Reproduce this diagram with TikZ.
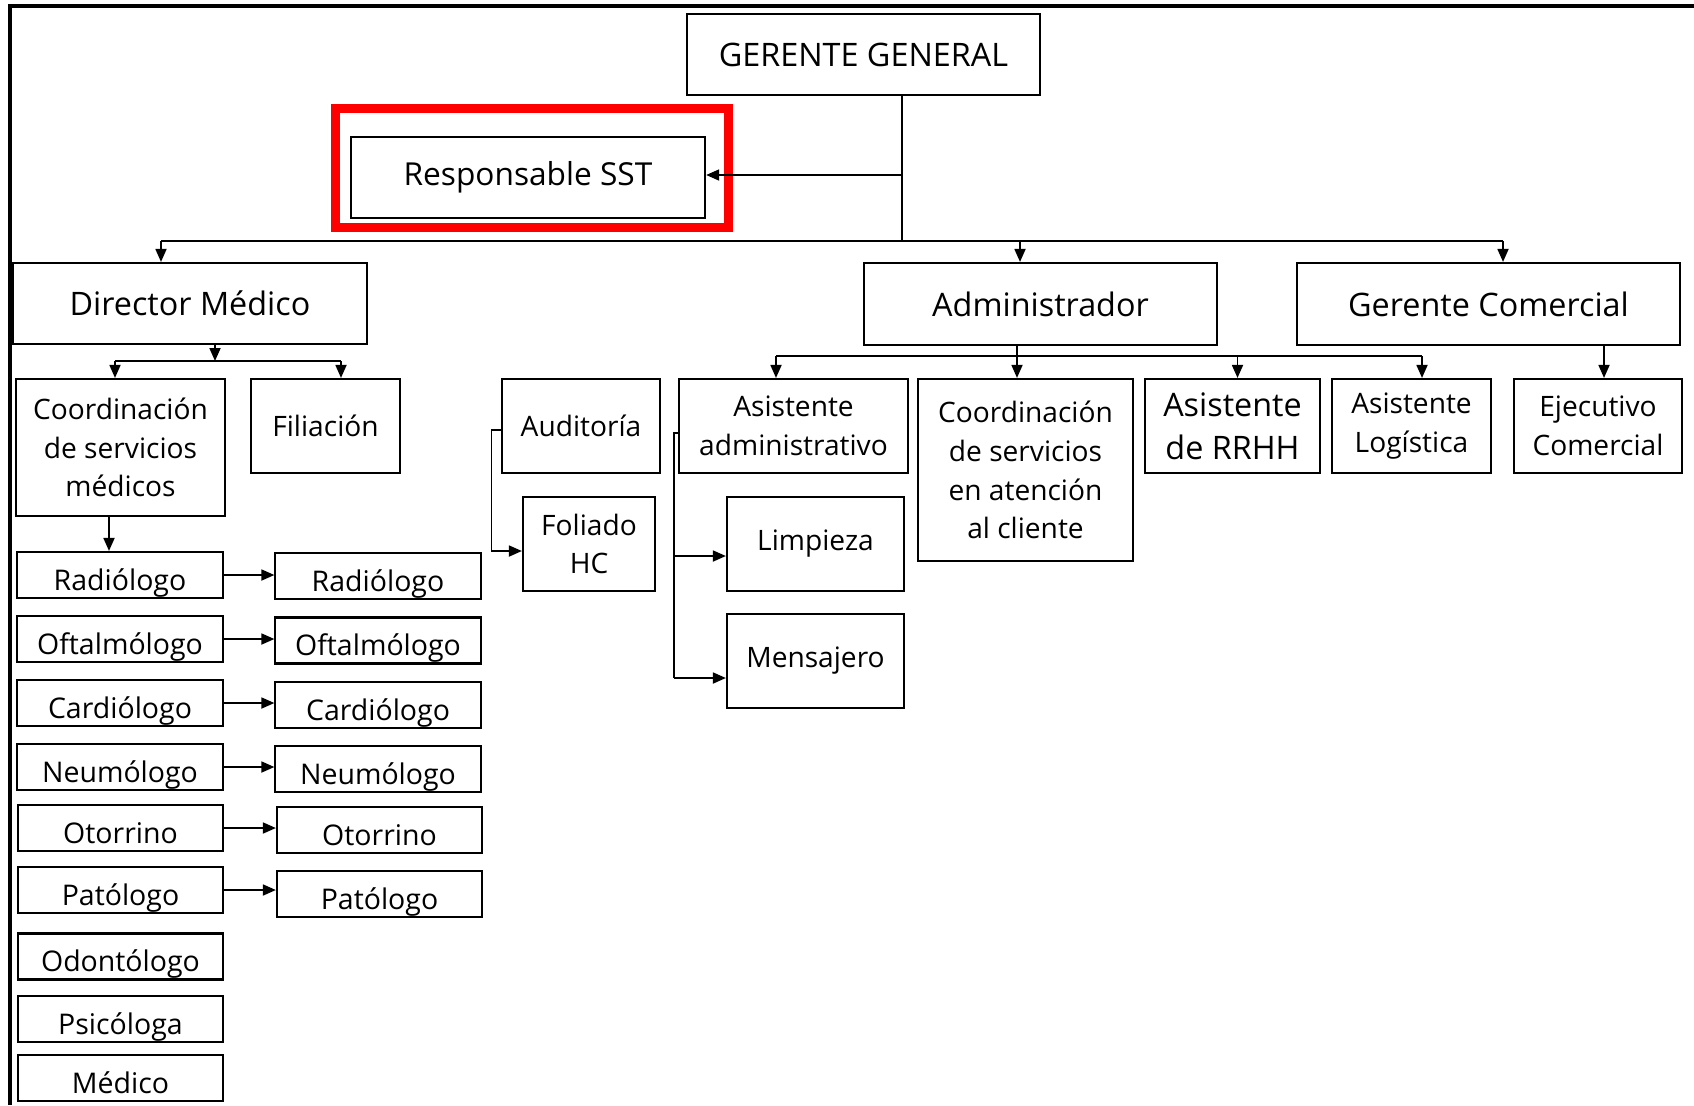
\documentclass[tikz,border=0pt]{standalone}
\usepackage{fontspec}
\setmainfont{Open Sans}
\usetikzlibrary{arrows.meta}
\tikzset{dim/.style 2 args={minimum width=#1cm,minimum height=#2cm}}

\begin{document}
\begin{tikzpicture}[x=0.01cm,y=-0.01cm,>={Triangle[length=1.3mm,width=1.1mm]},line width=0.5pt,
            box/.style={draw,line width=0.6pt,inner sep=1pt,align=center,font=\fontsize{8}{11}\selectfont},
            bigtext/.style={font=\fontsize{9.2}{12.3}\selectfont},
            doc/.style={box,minimum width=2.05cm,minimum height=0.46cm,text height=8.6pt,text depth=0pt,font=\fontsize{8.1}{10}\selectfont}]
            \useasboundingbox (0,0) rectangle (1694,1105);
            \draw[line width=0.9pt] (1694,6) -- (10,6) -- (10,1105);

            % top of the chart
            \node[box,bigtext,dim={3.53}{0.81}] (gg) at (863.5,54.5) {GERENTE GENERAL};
            \node[box,dim={3.54}{0.81},font=\fontsize{9}{11}\selectfont] (sst) at (528,177.5) {Responsable SST};
            \draw[red,line width=2.6pt] (335.5,108.5) rectangle (728.5,227.5);
            \node[box,bigtext,dim={3.54}{0.81}] (dm) at (190,303.5) {Director Médico};
            \node[box,bigtext,dim={3.53}{0.82}] (adm) at (1040.5,304) {Administrador};
            \node[box,bigtext,dim={3.83}{0.82}] (gc) at (1488.5,304) {Gerente Comercial};

            % second level
            \node[box,dim={2.09}{1.37}] (csm) at (120.5,447.5) {Coordinación\\de servicios\\médicos};
            \node[box,dim={1.49}{0.94}] (fil) at (325.5,426) {Filiación};
            \node[box,dim={1.58}{0.94}] (aud) at (581,426) {Auditoría};
            \node[box,dim={1.32}{0.94}] (fol) at (589,544) {Foliado\\HC};
            \node[box,dim={2.29}{0.94}] (aa) at (793.5,426) {Asistente\\administrativo};
            \node[box,dim={1.77}{0.94}] (lim) at (815.5,544) {Limpieza};
            \node[box,dim={1.77}{0.94}] (men) at (815.5,661) {Mensajero};
            \node[box,dim={2.15}{1.82}] (cac) at (1025.5,470) {Coordinación\\de servicios\\en atención\\al cliente};
            \node[box,bigtext,dim={1.75}{0.94}] (rrhh) at (1232.5,426) {Asistente\\de RRHH};
            \node[box,dim={1.59}{0.94}] (log) at (1411.5,426) {Asistente\\Logística};
            \node[box,dim={1.68}{0.94}] (ejc) at (1598,426) {Ejecutivo\\Comercial};

            % medical staff
            \node[doc] (l1) at (120,575) {Radiólogo};
            \node[doc] (l2) at (120,639) {Oftalmólogo};
            \node[doc] (l3) at (120,703) {Cardiólogo};
            \node[doc] (l4) at (120,767) {Neumólogo};
            \node[doc] (l5) at (120.5,828) {Otorrino};
            \node[doc] (l6) at (120.5,890) {Patólogo};
            \node[doc] (l7) at (120.5,956.5) {Odontólogo};
            \node[doc] (l8) at (120.5,1019) {Psicóloga};
            \node[doc] (l9) at (120.5,1078) {Médico};
            \node[doc] (r1) at (378,576) {Radiólogo};
            \node[doc] (r2) at (378,640.5) {Oftalmólogo};
            \node[doc] (r3) at (378,705) {Cardiólogo};
            \node[doc] (r4) at (378,769) {Neumólogo};
            \node[doc] (r5) at (379.5,830) {Otorrino};
            \node[doc] (r6) at (379.5,894) {Patólogo};

            % junctions
            \coordinate (j0) at (902,175);
            \coordinate (j1) at (902,241);
            \coordinate (b1) at (161,241);
            \coordinate (b2) at (1020,241);
            \coordinate (b3) at (1503,241);
            \coordinate (d0) at (215,361);
            \coordinate (d1) at (115,361);
            \coordinate (d2) at (341,361);
            \coordinate (d3) at (109,530);
            \coordinate (a0) at (491.5,430);
            \coordinate (a1) at (491.5,551);
            \coordinate (s0) at (674,433);
            \coordinate (s1) at (674,556);
            \coordinate (s2) at (674,678);
            \coordinate (m0) at (1017,356);
            \coordinate (m1) at (776,356);
            \coordinate (m2) at (1237.5,356);
            \coordinate (m3) at (1422,356);
            \coordinate (g0) at (1604,360);

            \draw (gg.south -| j0) -- (j1);
            \draw[->] (j0) -- (sst.east |- j0);
            \draw (b1) -- (b3);
            \draw[->] (b1) -- (b1 |- dm.north);
            \draw[->] (b2) -- (b2 |- adm.north);
            \draw[->] (b3) -- (b3 |- gc.north);

            \draw[->] (d0 |- dm.south) -- (d0);
            \draw (d1) -- (d2);
            \draw[->] (d1) -- (d1 |- csm.north);
            \draw[->] (d2) -- (d2 |- fil.north);
            \draw[->] (d3 |- csm.south) -- (d3 |- l1.north);
            \foreach \i in {1,...,6}
                \draw[->] (l\i.east) -- (l\i.east -| r\i.west);

            \draw[->] (aud.west |- a0) -- (a0) -- (a1) -- (a1 -| fol.west);
            \draw (aa.west |- s0) -- (s0) -- (s2);
            \draw[->] (s1) -- (s1 -| lim.west);
            \draw[->] (s2) -- (s2 -| men.west);

            \draw[->] (m0 |- adm.south) -- (m0 |- cac.north);
            \draw (m1) -- (m3);
            \draw[->] (m1) -- (m1 |- aa.north);
            \draw[->] (m2) -- (m2 |- rrhh.north);
            \draw[->] (m3) -- (m3 |- log.north);
            \draw[->] (g0 |- gc.south) -- (g0 |- ejc.north);
        \end{tikzpicture}
\end{document}
